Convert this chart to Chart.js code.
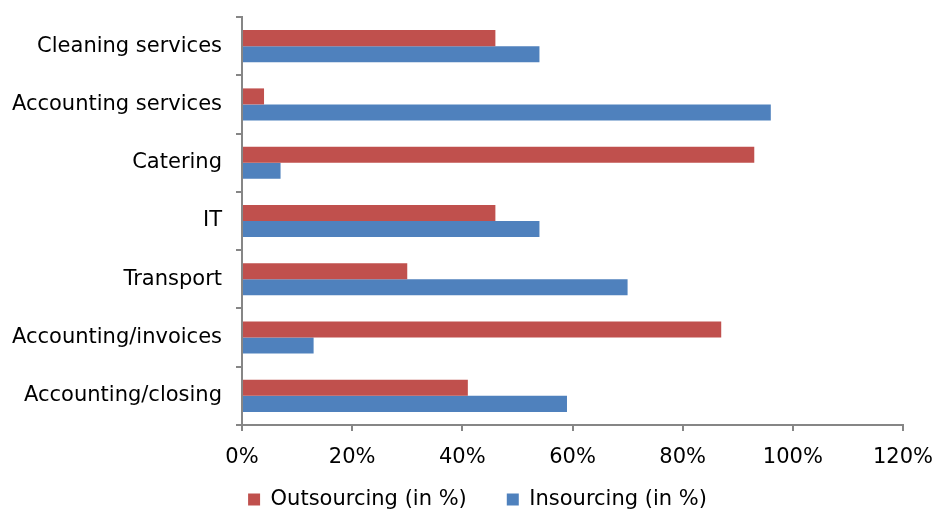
<!DOCTYPE html>
<html>
<head>
<meta charset="utf-8">
<script src="https://cdn.jsdelivr.net/npm/chart.js@4"></script>
<style>
  html, body { margin: 0; padding: 0; background: #fff; }
  #chart { display: block; }
</style>
</head>
<body>
<canvas id="chart" width="936" height="511"></canvas>
<script>
// data, top to bottom
const categories = ['Cleaning services', 'Accounting services', 'Catering', 'IT', 'Transport', 'Accounting/invoices', 'Accounting/closing'];
const outsourcing = [46, 4, 93, 46, 30, 87, 41];
const insourcing = [54, 96, 7, 54, 70, 13, 59];
const xTicks = [0, 20, 40, 60, 80, 100, 120];

const AXIS = '#868686';
const FONT = { family: '"DejaVu Sans", Verdana, sans-serif', size: 21 };
const LEGEND_PAD = 40;

// legend padding also sets the gap between items, so nudge the box afterwards
const legendNudge = {
  id: 'legendNudge',
  afterLayout(chart) {
    const lg = chart.legend;
    lg.left += 26; lg.right += 26;
    lg.top -= 21;
  },
};

new Chart(document.getElementById('chart'), {
  type: 'bar',
  data: {
    labels: categories,
    datasets: [
      { label: 'Outsourcing (in %)', data: outsourcing, backgroundColor: '#C0504D', borderWidth: 0 },
      { label: 'Insourcing (in %)', data: insourcing, backgroundColor: '#4F81BD', borderWidth: 0 },
    ],
  },
  options: {
    indexAxis: 'y',
    responsive: false,
    animation: false,
    categoryPercentage: 0.55,
    barPercentage: 1,
    layout: { padding: { top: 17, right: 33, left: 0, bottom: 0 } },
    plugins: {
      tooltip: { enabled: false },
      legend: {
        position: 'bottom',
        maxHeight: 41,
        labels: { color: '#000', font: FONT, boxWidth: 12, boxHeight: 12, padding: LEGEND_PAD },
      },
    },
    scales: {
      x: {
        min: 0,
        max: 120,
        afterBuildTicks: (s) => { s.ticks = xTicks.map(v => ({ value: v })); },
        afterFit: (s) => { s.height = 45; s.paddingLeft = 0; s.paddingRight = 0; },
        ticks: { color: '#000', font: FONT, padding: 14, maxRotation: 0, callback: (v) => v + '%' },
        grid: { drawOnChartArea: false, color: AXIS, lineWidth: 2, tickLength: 6 },
        border: { color: AXIS, width: 2 },
      },
      y: {
        afterFit: (s) => { s.width = 242; s.paddingTop = 0; s.paddingBottom = 0; },
        ticks: { color: '#000', font: FONT, padding: 14 },
        grid: { drawOnChartArea: false, color: AXIS, lineWidth: 2, tickLength: 6, offset: true },
        border: { color: AXIS, width: 2 },
      },
    },
  },
  plugins: [legendNudge],
});
</script>
</body>
</html>
